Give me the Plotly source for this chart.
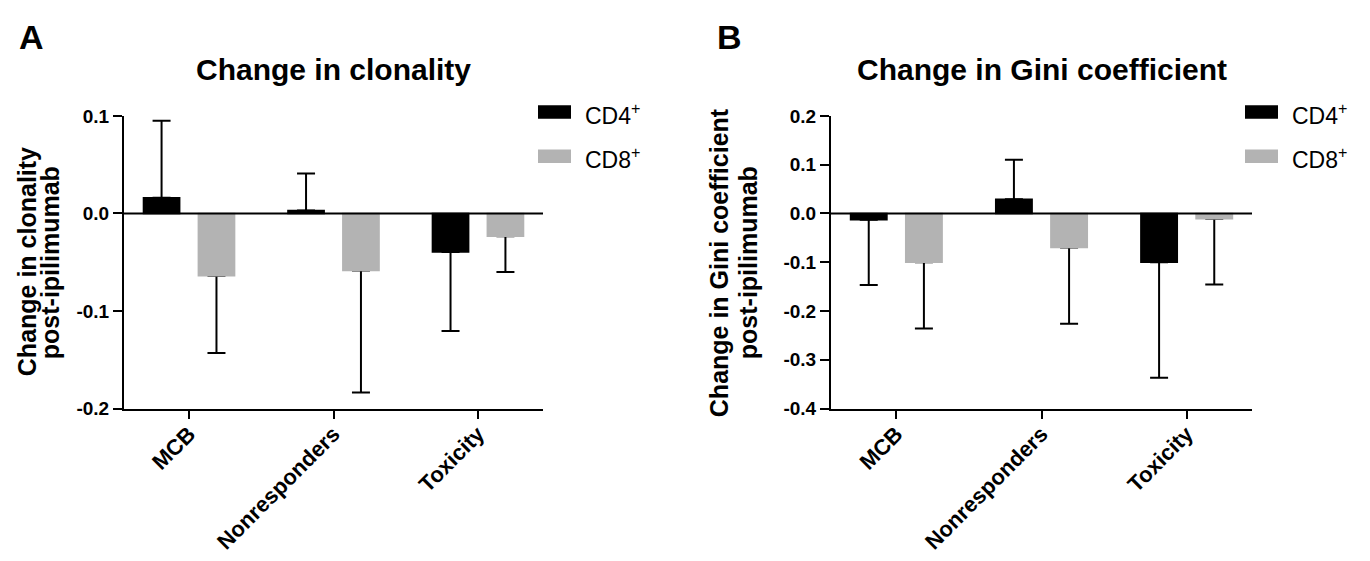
import plotly.graph_objects as go

# ---------------- data ----------------
categories = ["MCB", "Nonresponders", "Toxicity"]
series_names = ["CD4<sup>+</sup>", "CD8<sup>+</sup>"]
series_colors = ["#000000", "#b3b3b3"]

clon_cd4 = [0.016, 0.003, -0.0395]
clon_cd4_err = [0.079, 0.038, 0.081]
clon_cd8 = [-0.064, -0.0585, -0.0235]
clon_cd8_err = [0.079, 0.125, 0.0365]

gini_cd4 = [-0.013, 0.029, -0.100]
gini_cd4_err = [0.134, 0.081, 0.237]
gini_cd8 = [-0.100, -0.070, -0.011]
gini_cd8_err = [0.136, 0.156, 0.135]

clon_ticks = [-0.2, -0.1, 0.0, 0.1]
gini_ticks = [-0.4, -0.3, -0.2, -0.1, 0.0, 0.1, 0.2]

# ---------------- layout helpers ----------------
W, H = 1370, 561
FONT = "Arial, 'Liberation Sans', Helvetica, sans-serif"


def px(x):
    return x / W


def py(y):
    return 1 - y / H


panels = [
    dict(x0=124, x1=543, xa="x", ya="y", letter="A", title="Change in clonality",
         ytitle=["Change in clonality", "post-ipilimumab"], ytx=[27, 50],
         letter_x=32, data=[(clon_cd4, clon_cd4_err), (clon_cd8, clon_cd8_err)],
         ticks=clon_ticks, leg_x=538),
    dict(x0=831, x1=1252, xa="x2", ya="y2", letter="B", title="Change in Gini coefficient",
         ytitle=["Change in Gini coefficient", "post-ipilimumab"], ytx=[719, 748],
         letter_x=729, data=[(gini_cd4, gini_cd4_err), (gini_cd8, gini_cd8_err)],
         ticks=gini_ticks, leg_x=1245),
]

plot_top, plot_bottom = 110, 414

fig = go.Figure()

# error bars first (drawn underneath), then the visible bars
for p in panels:
    for i, (vals, errs) in enumerate(p["data"]):
        up = [e if v >= 0 else 0 for v, e in zip(vals, errs)]
        down = [e if v < 0 else 0 for v, e in zip(vals, errs)]
        fig.add_trace(go.Bar(
            x=categories, y=vals, xaxis=p["xa"], yaxis=p["ya"],
            marker=dict(color="rgba(0,0,0,0)", line=dict(width=0)),
            offsetgroup=str(i), alignmentgroup="g",
            error_y=dict(type="data", symmetric=False, array=up, arrayminus=down,
                         color="#000000", thickness=2, width=9),
            showlegend=False, hoverinfo="skip",
        ))
    for i, (vals, errs) in enumerate(p["data"]):
        fig.add_trace(go.Bar(
            x=categories, y=vals, xaxis=p["xa"], yaxis=p["ya"],
            marker=dict(color=series_colors[i], line=dict(color=series_colors[i], width=1.5)),
            offsetgroup=str(i), alignmentgroup="g",
            name=series_names[i], showlegend=False,
        ))

annotations = []
shapes = []
layout_axes = {}
for k, p in enumerate(panels):
    sx = "" if k == 0 else "2"
    layout_axes["xaxis" + sx] = dict(
        domain=[px(p["x0"]), px(p["x1"])], anchor="y" + sx,
        range=[-0.45, 2.45], type="category",
        showline=True, linecolor="#000000", linewidth=2,
        ticks="outside", ticklen=8, tickwidth=2, tickcolor="#000000",
        tickangle=-45, showgrid=False, zeroline=False, ticklabelstandoff=-6,
        tickfont=dict(family=FONT, size=22, color="#000000", weight="bold"),
    )
    layout_axes["yaxis" + sx] = dict(
        domain=[py(plot_bottom), py(plot_top)], anchor="x" + sx,
        range=[p["ticks"][0], p["ticks"][-1]],
        tickvals=p["ticks"], ticktext=[f"{t:.1f}" for t in p["ticks"]],
        showline=True, linecolor="#000000", linewidth=2,
        ticks="outside", ticklen=9, tickwidth=2, tickcolor="#000000",
        showgrid=False, zeroline=False,
        tickfont=dict(family=FONT, size=19, color="#000000", weight="bold"),
    )
    # zero line across the plot
    shapes.append(dict(type="line", xref=f"x{sx} domain", yref="y" + sx,
                       x0=0, x1=1, y0=0, y1=0, layer="above",
                       line=dict(color="#000000", width=2)))
    # panel letter
    annotations.append(dict(text="<b>" + p["letter"] + "</b>", x=px(p["letter_x"]), y=py(28),
                            xref="paper", yref="paper", showarrow=False,
                            xanchor="center", yanchor="middle",
                            font=dict(family=FONT, size=34, color="#000000")))
    # title
    annotations.append(dict(text="<b>" + p["title"] + "</b>",
                            x=px((p["x0"] + p["x1"]) / 2), y=py(62),
                            xref="paper", yref="paper", showarrow=False,
                            xanchor="center", yanchor="middle",
                            font=dict(family=FONT, size=30, color="#000000")))
    # y title (two lines)
    for line, xx in zip(p["ytitle"], p["ytx"]):
        annotations.append(dict(text="<b>" + line + "</b>", x=px(xx),
                                y=py((plot_top + plot_bottom) / 2),
                                xref="paper", yref="paper", showarrow=False, textangle=-90,
                                xanchor="center", yanchor="middle",
                                font=dict(family=FONT, size=25, color="#000000")))
    # legend
    for i, (nm, col) in enumerate(zip(series_names, series_colors)):
        cy = 106 + 46 * i
        shapes.append(dict(type="rect", xref="paper", yref="paper",
                           x0=px(p["leg_x"]), x1=px(p["leg_x"] + 33),
                           y0=py(cy + 7), y1=py(cy - 7),
                           fillcolor=col, line=dict(width=0)))
        annotations.append(dict(text=nm, x=px(p["leg_x"] + 45), y=py(cy + 2),
                                xref="paper", yref="paper", showarrow=False,
                                xanchor="left", yanchor="middle",
                                font=dict(family=FONT, size=23, color="#000000")))

fig.update_layout(
    width=W, height=H, autosize=False,
    margin=dict(l=0, r=0, t=0, b=0),
    paper_bgcolor="#ffffff", plot_bgcolor="#ffffff",
    barmode="group", bargap=0.24, bargroupgap=0.34,
    showlegend=False,
    annotations=annotations, shapes=shapes,
    **layout_axes,
)

fig.write_html(
    "out.html",
    config={"displayModeBar": False},
    post_script="document.body.style.margin='0';document.body.style.overflow='hidden';",
)
